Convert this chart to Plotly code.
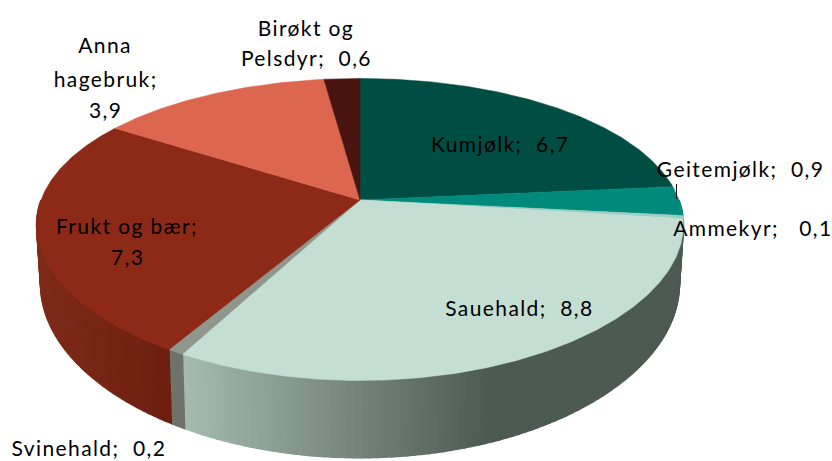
import numpy as np
import plotly.graph_objects as go

categories = ["Kumjølk", "Geitemjølk", "Ammekyr", "Sauehald", "Svinehald",
              "Frukt og bær", "Anna hagebruk", "Birøkt og Pelsdyr"]
values = [6.7, 0.9, 0.1, 8.8, 0.2, 7.3, 3.9, 0.6]
top_colors = ["#004D43", "#008A7C", "#9CCFC4", "#C5DED3", "#8F968C", "#8C2A17", "#DC674E", "#4A1510"]

CX, CY, P, PX = 360.0, 200.0, 0.195, 0.165
TOP_A, TOP_B = 319.0, 145.3
BOT_CY, BOT_A, BOT_B = 257.0, 315.0, 161.6


def project(theta, cy=CY, a=TOP_A, b=TOP_B):
    u, v = np.sin(theta), np.cos(theta)
    return CX + a * u / (1 + PX * v), cy - b * v / (1 + P * v)


def bottom(theta):
    return project(theta, cy=BOT_CY, a=BOT_A, b=BOT_B)


def mix(c1, c2, t):
    t = float(np.clip(t, 0, 1))
    a = [int(c1[i:i + 2], 16) for i in (1, 3, 5)]
    b = [int(c2[i:i + 2], 16) for i in (1, 3, 5)]
    return "rgb(%d,%d,%d)" % tuple(a[i] + (b[i] - a[i]) * t for i in range(3))


def side_color(i, x):
    if i == 3:
        return mix("#A5BBB0", "#4D5A54", (x - 185) / 305)
    if i == 4:
        return "#6F726A"
    if i == 5:
        return mix("#7E2B19", "#6E1F10", (x - 40) / 130)
    return top_colors[i]


fracs = np.array(values) / sum(values) * 2 * np.pi
ends = np.cumsum(fracs)
starts = ends - fracs
fig = go.Figure()


def poly(x, y, color, w=0.5):
    fig.add_trace(go.Scatter(x=list(x), y=list(y), mode="lines", fill="toself", fillcolor=color,
                             line=dict(color=color, width=w), hoverinfo="skip", showlegend=False))


# rim, split in thin strips so the shading can run across each slice
for i, (s, e) in enumerate(zip(starts, ends)):
    lo, hi = max(s, np.pi * 0.5), min(e, np.pi * 1.5)
    if hi <= lo:
        continue
    n = max(2, int((hi - lo) / 0.02))
    edges = np.linspace(lo, hi, n + 1)
    for j in range(n):
        t0, t1 = edges[j], edges[j + 1]
        x0, y0 = project(t0)
        x1, y1 = project(t1)
        x2, y2 = bottom(t1)
        x3, y3 = bottom(t0)
        poly([x0, x1, x2, x3, x0], [y0, y1, y2, y3, y0], side_color(i, (x0 + x1) / 2), w=1.5)

# top faces
for i, (s, e) in enumerate(zip(starts, ends)):
    th = np.linspace(s, e, max(3, int((e - s) / 0.01)))
    x, y = project(th)
    poly(np.r_[CX, x, CX], np.r_[CY, y, CY], top_colors[i])

# the small leader line beside Geitemjølk
fig.add_trace(go.Scatter(x=[676.5, 676.5], y=[184, 199], mode="lines", line=dict(color="#111", width=1),
                         hoverinfo="skip", showlegend=False))

label_lines = [
    ("Kumjølk;  6,7", 500, 143), ("Geitemjølk;  0,9", 740, 168), ("Ammekyr;   0,1", 753, 227),
    ("Sauehald;  8,8", 519, 307), ("Svinehald;  0,2", 89, 447),
    ("Frukt og bær;", 127, 225), ("7,3", 127, 256),
    ("Anna", 105, 44), ("hagebruk;", 105, 78), ("3,9", 105, 109),
    ("Birøkt og", 306, 27), ("Pelsdyr;  0,6", 306, 57),
]
for text, x, y in label_lines:
    fig.add_annotation(x=x, y=y, text=text, showarrow=False, xanchor="center", yanchor="middle",
                       font=dict(family="Lato", size=21, color="#000"), align="center")

fig.update_layout(
    width=832, height=461, margin=dict(l=0, r=0, t=0, b=0),
    paper_bgcolor="white", plot_bgcolor="white", showlegend=False,
    xaxis=dict(range=[0, 832], visible=False, fixedrange=True),
    yaxis=dict(range=[461, 0], visible=False, fixedrange=True),
)
post = ("document.body.style.margin='0';"
        "var s=document.createElement('style');"
        "s.textContent='.annotation-text{letter-spacing:1.4px}';"
        "document.head.appendChild(s);")
fig.write_html("out.html", config=dict(displayModeBar=False), post_script=post)
